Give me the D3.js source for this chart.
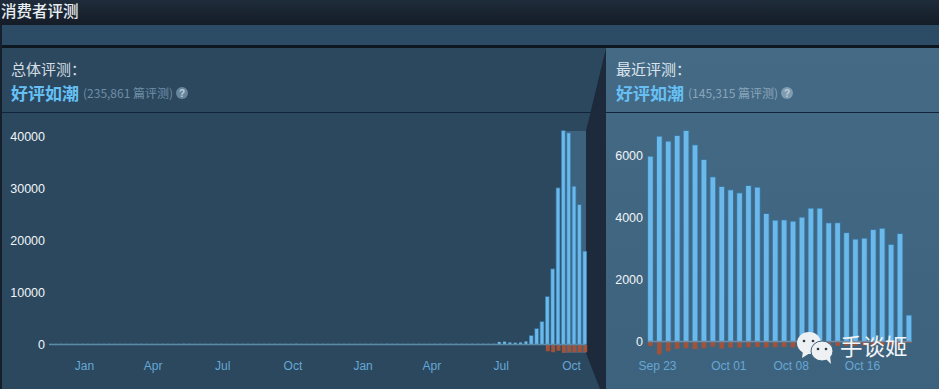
<!DOCTYPE html>
<html>
<head>
<meta charset="utf-8">
<script src="https://cdnjs.cloudflare.com/ajax/libs/d3/7.8.5/d3.min.js"></script>
<style>
html, body { margin: 0; padding: 0; background: #2a475e; }
svg { display: block; }
text { font-family: Arial, "Liberation Sans", "Noto Sans CJK SC", sans-serif; }
.cjk { font-family: "Noto Sans CJK SC", sans-serif; }
</style>
</head>
<body>
<script>
// weekly review totals, overall chart
let overallUp = [
    20, 20, 30, 20, 20, 20, 30, 20, 20, 20, 20, 30, 20, 20, 20, 20, 20, 30, 20, 20,
    20, 30, 20, 20, 20, 40, 30, 20, 20, 20, 20, 20, 30, 20, 20, 20, 20, 30, 20, 20,
    20, 20, 30, 20, 20, 20, 40, 20, 20, 20, 20, 30, 20, 20, 20, 30, 20, 20, 20, 20,
    30, 20, 20, 40, 30, 30, 20, 20, 20, 30, 20, 20, 30, 40, 30, 30, 40, 30, 30, 40,
    30, 40, 30, 40,
    400, 450, 300, 250, 300, 500, 1540, 2885, 4230, 9040, 14370, 29940, 40960, 40520, 30250, 26730, 17750
];
let overallDown = [
    0, 0, 0, 0, 0, 0, 0, 0, 0, 0, 0, 0, 0, 0, 0, 0, 0, 0, 0, 0,
    0, 0, 0, 0, 0, 0, 0, 0, 0, 0, 0, 0, 0, 0, 0, 0, 0, 0, 0, 0,
    0, 0, 0, 0, 0, 0, 0, 0, 0, 0, 0, 0, 0, 0, 0, 0, 0, 0, 0, 0,
    0, 0, 0, 0, 0, 0, 0, 0, 0, 0, 0, 0, 0, 0, 0, 0, 0, 0, 0, 0,
    0, 0, 0, 0,
    0, 0, 0, 0, 0, 0, 0, 0, 0, -1200, -1400, -1100, -1500, -1400, -1400, -1400, -1400
];
let overallTicks = ['2017-01-01', '2017-04-01', '2017-07-01', '2017-10-01', '2018-01-01', '2018-04-01', '2018-07-01', '2018-10-01'];
let overallTickLabels = ['Jan', 'Apr', 'Jul', 'Oct', 'Jan', 'Apr', 'Jul', 'Oct'];
let overallYTicks = [0, 10000, 20000, 30000, 40000];

// daily review totals, recent chart
let recentUp = [
    5945, 6590, 6430, 6613, 6774, 6312, 5839, 5280, 4968, 4860,
    4763, 5000, 4946, 4097, 3881, 3892, 3849, 3978, 4268, 4268,
    3796, 3800, 3480, 3270, 3300, 3580, 3620, 3100, 3450, 820
];
let recentDown = [
    -130, -400, -300, -220, -200, -230, -200, -150, -210, -180,
    -180, -170, -160, -180, -170, -160, -180, -170, -150, -140,
    -140, -130, -120, -120, -120, -120, -110, -100, -110, -30
];
let recentTicks = ['2018-09-23', '2018-10-01', '2018-10-08', '2018-10-16'];
let recentTickLabels = ['Sep 23', 'Oct 01', 'Oct 08', 'Oct 16'];
let recentYTicks = [0, 2000, 4000, 6000];

let parseDay = d3.utcParse('%Y-%m-%d');
let lastOverall = parseDay('2018-10-17');
let firstRecent = parseDay('2018-09-22');

let svg = d3.select('body').append('svg')
    .attr('width', 939)
    .attr('height', 389);

// ---- page background
let defs = svg.append('defs');
let topGrad = defs.append('linearGradient').attr('id', 'topBar').attr('x2', 0).attr('y2', 1);
topGrad.append('stop').attr('offset', 0).attr('stop-color', '#1f2c3b');
topGrad.append('stop').attr('offset', 1).attr('stop-color', '#141c27');
let rightGrad = defs.append('linearGradient').attr('id', 'rightPanel').attr('x2', 0).attr('y2', 1);
rightGrad.append('stop').attr('offset', 0).attr('stop-color', '#456a86');
rightGrad.append('stop').attr('offset', 1).attr('stop-color', '#3d627e');

svg.append('rect').attr('width', 939).attr('height', 25).attr('fill', 'url(#topBar)');
svg.append('rect').attr('y', 25).attr('width', 939).attr('height', 20).attr('fill', '#2c4b65');
svg.append('rect').attr('y', 45).attr('width', 939).attr('height', 3).attr('fill', '#0e1620');
svg.append('rect').attr('y', 25).attr('width', 2).attr('height', 364).attr('fill', '#16202d');
svg.append('rect').attr('x', 2).attr('y', 48).attr('width', 604).attr('height', 341).attr('fill', '#2b485f');
svg.append('rect').attr('x', 606).attr('y', 48).attr('width', 333).attr('height', 341).attr('fill', 'url(#rightPanel)');

// range highlight
svg.append('rect').attr('x', 562).attr('y', 131).attr('width', 24).attr('height', 222)
    .attr('fill', '#3d627e');

svg.append('rect').attr('x', 2).attr('y', 112).attr('width', 604).attr('height', 1).attr('fill', '#12243a');
svg.append('rect').attr('x', 606).attr('y', 112).attr('width', 333).attr('height', 1).attr('fill', '#12243a');

// connector
svg.append('path').attr('d', 'M586,131L606,48V389H600L586,353Z').attr('fill', '#1c2a3b');

// ---- titles
function text(x, y, s, size, fill, weight) {
    return svg.append('text').attr('class', 'cjk')
        .attr('x', x).attr('y', y)
        .attr('font-size', size)
        .attr('font-weight', weight || 400)
        .attr('fill', fill)
        .text(s);
}
text(1, 17, '消费者评测', 15.5, '#e8edf2', 500);
text(11, 75, '总体评测：', 15, '#d5dde4');
text(11, 100, '好评如潮', 17, '#66c0f4', 700);
text(83, 98, '(235,861 篇评测)', 12, '#6f8ea6');
text(616, 75, '最近评测：', 15, '#dde5ec');
text(616, 100, '好评如潮', 17, '#66c0f4', 700);
text(688, 98, '(145,315 篇评测)', 12, '#8aa5ba');

function helpIcon(cx, fill) {
    svg.append('circle').attr('cx', cx).attr('cy', 93).attr('r', 6).attr('fill', fill);
    svg.append('text').attr('x', cx).attr('y', 97).attr('text-anchor', 'middle')
        .attr('font-size', 10).attr('font-weight', 700).attr('fill', '#c0ced8').text('?');
}
helpIcon(182, '#67859c');
helpIcon(787, '#7f9cb2');

// ---- chart drawing
function drawChart(o) {
    let g = svg.append('g');

    g.append('g').selectAll('rect').data(o.up).enter().append('rect')
        .attr('x', function (d, i) { return o.x(o.date(i)); })
        .attr('width', o.barWidth)
        .attr('y', function (d) { return o.y(d); })
        .attr('height', function (d) { return o.y(0) - o.y(d); })
        .attr('fill', '#6ab9ea')
        .attr('stroke', function (d) { return d > o.haloFrom ? '#3b7aa8' : 'none'; })
        .attr('stroke-width', 1.5)
        .style('paint-order', 'stroke');

    g.append('g').selectAll('rect').data(o.down).enter().append('rect')
        .attr('x', function (d, i) { return o.x(o.date(i)); })
        .attr('width', o.downWidth)
        .attr('y', o.y(0) + 1)
        .attr('height', function (d) { return Math.abs(o.y(d) - o.y(0)); })
        .attr('fill', '#a0523a');

    // baseline
    g.append('line')
        .attr('x1', o.baseX[0]).attr('x2', o.baseX[1])
        .attr('y1', o.y(0) + 0.5).attr('y2', o.y(0) + 0.5)
        .attr('stroke', o.baseColor).attr('stroke-width', 1.5);

    let yAxis = g.append('g')
        .attr('transform', 'translate(' + o.yAxisX + ',0.5)')
        .call(d3.axisLeft(o.y).tickValues(o.yTicks).tickSize(0).tickPadding(0).tickFormat(d3.format('d')));
    yAxis.select('.domain').remove();
    yAxis.selectAll('text').attr('fill', '#f0f4f7').attr('font-size', 12.5).style('font-family', 'Arial, "Liberation Sans", sans-serif');

    let xAxis = g.append('g')
        .attr('transform', 'translate(0,' + o.xAxisY + ')')
        .call(d3.axisBottom(o.x)
            .tickValues(o.xTicks.map(parseDay))
            .tickSize(0).tickPadding(0)
            .tickFormat(function (d, i) { return o.xLabels[i]; }));
    xAxis.select('.domain').remove();
    xAxis.selectAll('text').attr('fill', '#66a7d4').attr('font-size', 12).style('font-family', 'Arial, "Liberation Sans", sans-serif');
}

// overall chart: Jan 2017 sits at 84, Oct 2018 at 571
drawChart({
    up: overallUp,
    down: overallDown,
    date: function (i) { return d3.utcDay.offset(lastOverall, (i - overallUp.length + 1) * 7); },
    x: d3.scaleUtc().domain([parseDay(overallTicks[0]), parseDay(overallTicks[7])]).range([84, 571]),
    y: d3.scaleLinear().domain([0, 40000]).range([344, 136]),
    barWidth: 3,
    downWidth: 4,
    haloFrom: 1000,
    baseX: [49, 586],
    baseColor: '#5d8aa6',
    yTicks: overallYTicks,
    yAxisX: 45,
    xAxisY: 361,
    xTicks: overallTicks,
    xLabels: overallTickLabels
});

// recent chart
drawChart({
    up: recentUp,
    down: recentDown,
    date: function (i) { return d3.utcDay.offset(firstRecent, i); },
    x: d3.scaleUtc().domain([parseDay('2018-09-23'), parseDay('2018-10-16')]).range([657, 862]),
    y: d3.scaleLinear().domain([0, 6000]).range([341, 155]),
    barWidth: 4.7,
    downWidth: 4.7,
    haloFrom: 0,
    baseX: [648, 912],
    baseColor: '#6f8da6',
    yTicks: recentYTicks,
    yAxisX: 643,
    xAxisY: 361,
    xTicks: recentTicks,
    xLabels: recentTickLabels
});

// ---- watermark
let wm = svg.append('g');
wm.append('ellipse').attr('cx', 809).attr('cy', 343).attr('rx', 12).attr('ry', 11).attr('fill', '#eef1f3');
wm.append('path').attr('d', 'M803,351L802,358L810,353Z').attr('fill', '#eef1f3');
wm.append('ellipse').attr('cx', 822).attr('cy', 351).attr('rx', 11).attr('ry', 10).attr('fill', '#eef1f3').attr('stroke', '#3f6480').attr('stroke-width', 1);
wm.append('path').attr('d', 'M826,359L831,364L830,356Z').attr('fill', '#eef1f3');
[[804, 341], [813, 341], [818, 349], [826, 349]].forEach(function (p) {
    wm.append('circle').attr('cx', p[0]).attr('cy', p[1]).attr('r', 1.3).attr('fill', '#2d3b46');
});
wm.append('text').attr('class', 'cjk').attr('x', 840).attr('y', 355)
    .attr('font-size', 22.5).attr('fill', '#f2f4f5').text('手谈姬');
</script>
</body>
</html>
